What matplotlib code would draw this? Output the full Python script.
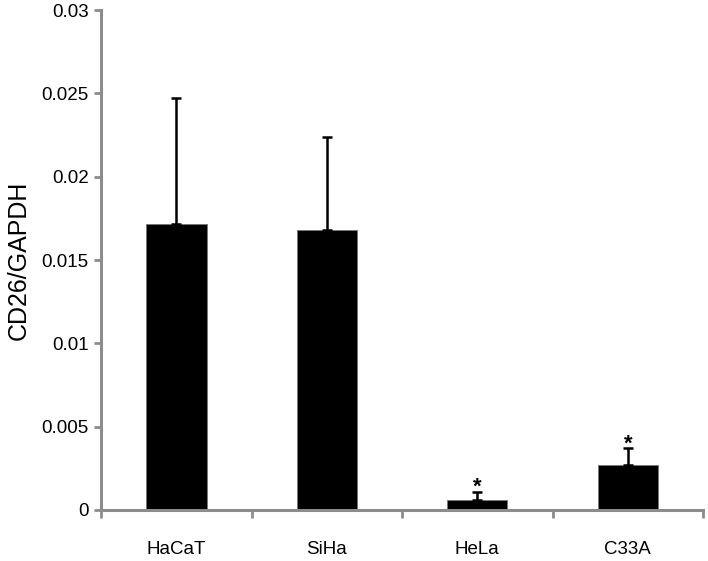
import matplotlib.pyplot as plt
import numpy as np

plt.rcParams['font.family'] = ['Liberation Sans', 'DejaVu Sans']

lineas = ['HaCaT', 'SiHa', 'HeLa', 'C33A']
valores = [0.01715, 0.0168, 0.0006, 0.0027]
errores = [0.0076, 0.0056, 0.0005, 0.0010]
signif = ['', '', '*', '*']

fig = plt.figure(figsize=(7.08, 5.61), dpi=100)
ax = fig.add_axes([0.143, 0.091, 0.85, 0.891])

x = np.arange(len(lineas))
ax.bar(x, valores, width=0.4, color='black', edgecolor='#777777', linewidth=0.6)
ax.errorbar(x, valores, yerr=[np.zeros(len(valores)), errores], fmt='none',
            ecolor='black', elinewidth=1.8, capsize=3.5, capthick=1.8)

for xi, v, e, s in zip(x, valores, errores, signif):
    if s:
        ax.annotate(s, (xi, v + e), xytext=(0, -1), textcoords='offset points',
                    ha='center', va='baseline', fontsize=16, fontweight='bold')

ax.set_xlim(-0.5, len(lineas) - 0.5)
ax.set_ylim(0, 0.03)
ax.set_yticks(np.arange(0, 0.0301, 0.005))
ax.set_yticklabels(['0', '0.005', '0.01', '0.015', '0.02', '0.025', '0.03'])
ax.set_xticks(x)
ax.set_xticklabels(lineas)
ax.set_xticks(np.arange(-0.5, len(lineas), 1), minor=True)

gris = '#8c8c8c'
for lado in ['top', 'right']:
    ax.spines[lado].set_visible(False)
for lado in ['left', 'bottom']:
    ax.spines[lado].set_color(gris)
    ax.spines[lado].set_linewidth(2.2)

ax.tick_params(axis='y', direction='out', length=5, width=2, color=gris,
               labelsize=13.5, pad=4)
ax.tick_params(axis='x', which='major', length=0, labelsize=13.5, pad=22)
ax.tick_params(axis='x', which='minor', direction='out', length=6, width=2, color=gris)

ax.set_ylabel('CD26/GAPDH', fontsize=18, labelpad=8)

plt.savefig('out.png', dpi=100)
